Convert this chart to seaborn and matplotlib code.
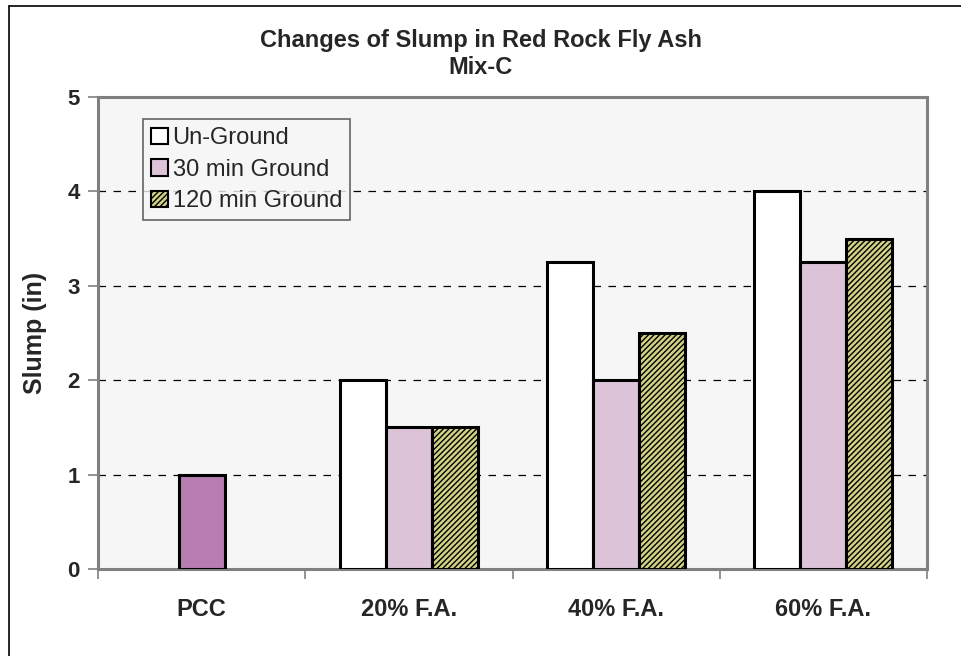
import matplotlib
matplotlib.use("Agg")
import matplotlib.pyplot as plt
import seaborn as sns
import pandas as pd
import numpy as np
from matplotlib.patches import Patch
from matplotlib.lines import Line2D

categories = ["PCC", "20% F.A.", "40% F.A.", "60% F.A."]
series = ["Un-Ground", "30 min Ground", "120 min Ground"]
un_ground = [np.nan, 2.0, 3.25, 4.0]
ground_30 = [1.0, 1.5, 2.0, 3.25]
ground_120 = [np.nan, 1.5, 2.5, 3.5]
y_ticks = [0, 1, 2, 3, 4, 5]

sns.set_theme(style="white")
plt.rcParams['font.family'] = ['Liberation Sans', 'DejaVu Sans']
plt.rcParams['hatch.linewidth'] = 1.0

rows = []
for s, vals in zip(series, [un_ground, ground_30, ground_120]):
    for c, v in zip(categories, vals):
        rows.append({"cat": c, "series": s, "value": v})
df = pd.DataFrame(rows)

fig = plt.figure(figsize=(9.61, 6.56), dpi=100)
ax = fig.add_axes([98/961, 1-569/656, (927-98)/961, (569-97)/656])

face = {"Un-Ground": "white", "30 min Ground": "#dcc3d8", "120 min Ground": "#d2d286"}
hatch = {"Un-Ground": None, "30 min Ground": None, "120 min Ground": "//////"}

sns.barplot(data=df, x="cat", y="value", hue="series", order=categories,
            hue_order=series, width=0.667, ax=ax, legend=False,
            palette=[face[s] for s in series], saturation=1, errorbar=None,
            edgecolor="black", linewidth=2.2, zorder=3)

for cont, s in zip(ax.containers, series):
    for i, bar in enumerate(cont):
        bar.set_facecolor(face[s])
        bar.set_edgecolor("black")
        if hatch[s]:
            bar.set_hatch(hatch[s])
        if s == "30 min Ground" and i == 0:
            bar.set_facecolor("#b77cb0")

ax.set_facecolor("#f6f6f6")
ax.set_ylim(0, 5)
ax.set_xlim(-0.5, 3.5)
ax.set_yticks(y_ticks)
ax.set_yticklabels([str(t) for t in y_ticks], fontsize=16, fontweight="bold")
for t in y_ticks[1:-1]:
    ax.axhline(t, color="black", linestyle=(0, (6, 6)), linewidth=0.9, zorder=1)

ax.set_xticks(range(len(categories)))
ax.set_xticklabels(categories, fontsize=17, fontweight="bold")
ax.tick_params(axis="x", which="major", length=0, pad=21)
ax.set_xticks(np.arange(-0.5, len(categories) + 0.5, 1), minor=True)
ax.tick_params(axis="x", which="minor", length=7, width=1.2, color="#808080", direction="out", bottom=True)
ax.tick_params(axis="y", length=7, width=1.2, color="#808080", direction="out", left=True, pad=6)

for side in ["left", "right", "top", "bottom"]:
    ax.spines[side].set_color("#808080")
    ax.spines[side].set_linewidth(2.2)
    ax.spines[side].set_visible(True)

ax.set_xlabel("")
ax.set_ylabel("Slump (in)", fontsize=18, fontweight="bold", labelpad=15)

fig.suptitle("Changes of Slump in Red Rock Fly Ash\nMix-C", fontsize=17, fontweight="bold",
             y=1-29/656, va="top", linespacing=1.2)

handles = [Patch(facecolor=face[s], edgecolor="black", hatch=hatch[s], linewidth=1.5) for s in series]
leg = ax.legend(handles, series, loc="upper left", bbox_to_anchor=((143-98)/829, 1-(119-97)/472),
                fontsize=17, frameon=True, fancybox=False, handlelength=0.7, handleheight=0.7,
                handletextpad=0.2, labelspacing=0.4, borderpad=0.35, borderaxespad=0)
leg.get_frame().set_edgecolor("#404040")
leg.get_frame().set_facecolor("#f6f6f6")
leg.get_frame().set_linewidth(1.2)

fig.add_artist(Line2D([9/961, 9/961], [0, 1-6/656], color="black", linewidth=1.2, transform=fig.transFigure))
fig.add_artist(Line2D([9/961, 1], [1-6/656, 1-6/656], color="black", linewidth=1.2, transform=fig.transFigure))

fig.savefig("out.png", dpi=100)
